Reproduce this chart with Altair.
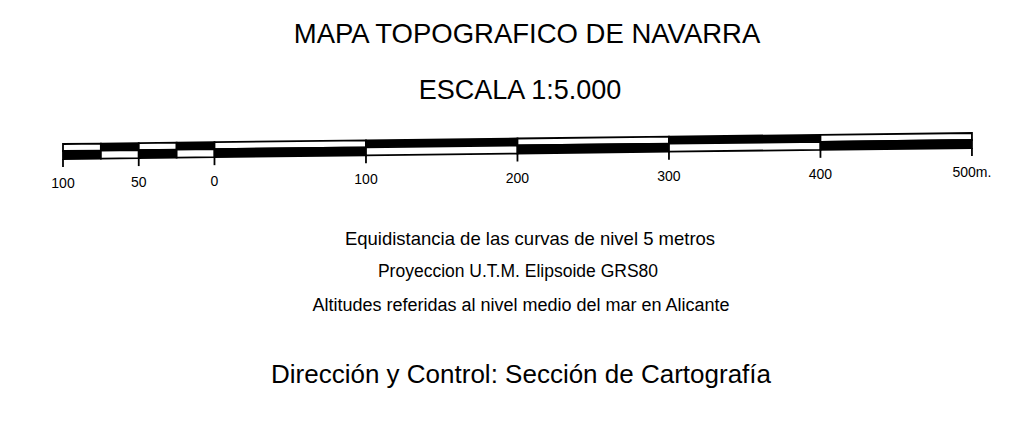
import altair as alt
import pandas as pd

# ---- data -------------------------------------------------------------
seg_start = [-100, -75, -50, -25, 0, 100, 200, 300, 400]
seg_end = [-75, -50, -25, 0, 100, 200, 300, 400, 500]
top_fill = ["white", "black", "white", "black", "white", "black", "white", "black", "white"]
bottom_fill = ["black", "white", "black", "white", "black", "white", "black", "white", "black"]

tick_values = [-100, -50, 0, 100, 200, 300, 400, 500]
tick_labels = ["100", "50", "0", "100", "200", "300", "400", "500m."]

title_text = "MAPA TOPOGRAFICO DE NAVARRA"
scale_text = "ESCALA 1:5.000"
info_lines = [
    "Equidistancia de las curvas de nivel 5 metros",
    "Proyeccion U.T.M. Elipsoide GRS80",
    "Altitudes referidas al nivel medio del mar en Alicante",
]
credit_text = "Dirección y Control: Sección de Cartografía"

# ---- layout constants ---------------------------------------------------
W, H = 1005, 406
X_DOMAIN = [-136.3, 527.1]
TOP_LEFT = 136.0      # bar top (px) at -100 m
TILT = -11.0 / 600.0  # px per metre (scan tilt)
ROW1 = 7.0
ROW2 = 8.0
TICK = 8.0
LABEL_OFF = 40.0
FONT = "Liberation Sans"


def top_at(m):
    return TOP_LEFT + TILT * (m + 100)


rows = []
for i, (s, e, tf, bf) in enumerate(zip(seg_start, seg_end, top_fill, bottom_fill)):
    for m in (s, e):
        t = top_at(m)
        rows.append(dict(seg=f"t{i}", m=m, y=t, y2=t + ROW1, fill=tf))
        rows.append(dict(seg=f"b{i}", m=m, y=t + ROW1, y2=t + ROW1 + ROW2, fill=bf))
bars = pd.DataFrame(rows)

ticks = pd.DataFrame(
    dict(
        m=tick_values,
        label=tick_labels,
        y=[top_at(v) + ROW1 + ROW2 for v in tick_values],
        y2=[top_at(v) + ROW1 + ROW2 + TICK for v in tick_values],
        ly=[top_at(v) + LABEL_OFF for v in tick_values],
    )
)

xs = alt.Scale(domain=X_DOMAIN, nice=False, zero=False)
ys = alt.Scale(domain=[0, H], reverse=True, nice=False, zero=False)
xenc = alt.X("m:Q", scale=xs, axis=None)

bar_layer = (
    alt.Chart(bars)
    .mark_area(stroke="black", strokeWidth=1.8, interpolate="linear")
    .encode(
        x=xenc,
        y=alt.Y("y:Q", scale=ys, axis=None),
        y2="y2:Q",
        detail="seg:N",
        fill=alt.Fill("fill:N", scale=None),
    )
)

tick_layer = (
    alt.Chart(ticks)
    .mark_rule(color="black", strokeWidth=1.8)
    .encode(x=xenc, y=alt.Y("y:Q", scale=ys, axis=None), y2="y2:Q")
)

label_layer = (
    alt.Chart(ticks)
    .mark_text(font=FONT, fontSize=14, color="black", baseline="middle")
    .encode(x=xenc, y=alt.Y("ly:Q", scale=ys, axis=None), text="label:N")
)

texts = pd.DataFrame(
    dict(
        text=[title_text, scale_text] + info_lines + [credit_text],
        px=[519, 512, 522, 510, 513, 513],
        py=[27, 83, 231, 264, 298, 367],
        size=[27.5, 27, 18.5, 17.5, 18, 26],
    )
)

text_layers = []
for _, r in texts.iterrows():
    text_layers.append(
        alt.Chart(pd.DataFrame({"t": [r["text"]]}))
        .mark_text(font=FONT, fontSize=float(r["size"]), color="black",
                   align="center", baseline="middle")
        .encode(x=alt.value(float(r["px"])), y=alt.value(float(r["py"])), text="t:N")
    )

chart = (
    alt.layer(bar_layer, tick_layer, label_layer, *text_layers)
    .properties(width=W, height=H, padding=0,
                autosize=alt.AutoSizeParams(type="none"),
                view=alt.ViewBackground(strokeWidth=0, stroke="white"))
    .configure_view(strokeWidth=0, stroke="white")
    .configure(background="white")
)

chart.save("out.html", embed_options={"renderer": "svg", "actions": False})
